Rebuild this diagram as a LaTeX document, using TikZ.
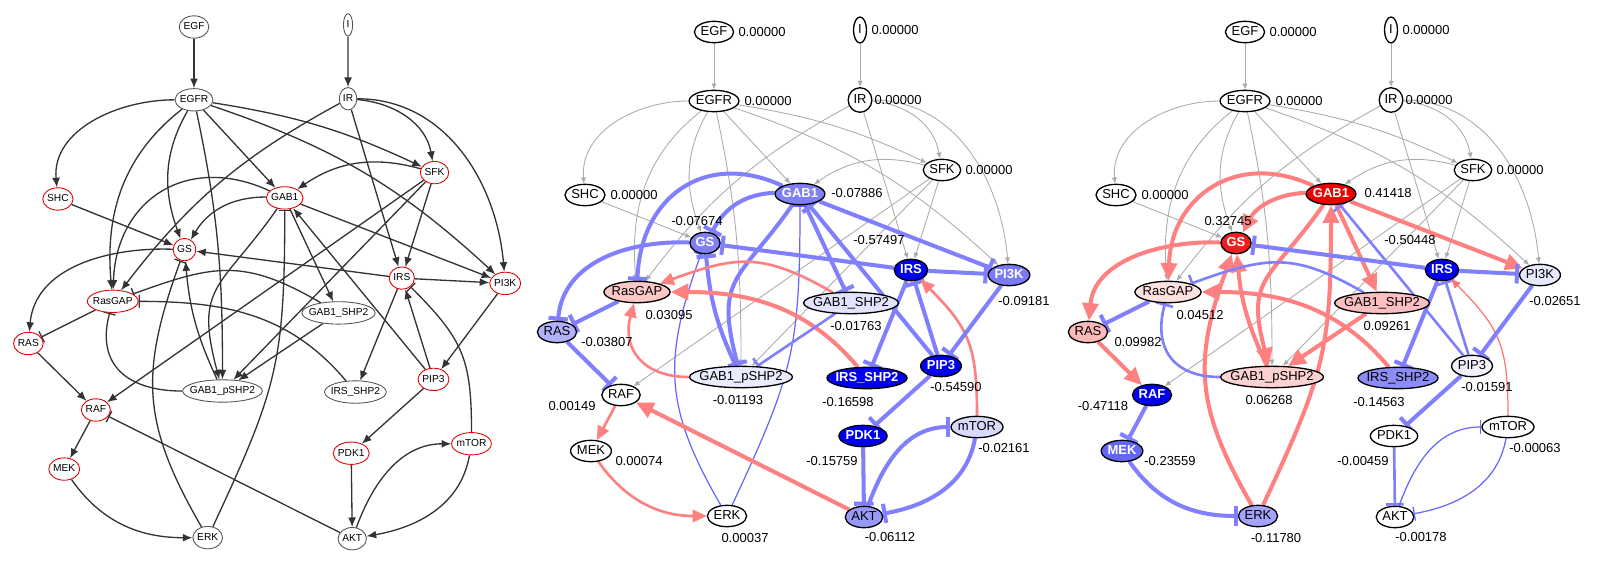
\documentclass[tikz,border=0pt]{standalone}
\usepackage{fontspec}
\setmainfont{Liberation Sans}
\usetikzlibrary{arrows.meta,shapes.geometric}
\pgfdeclarelayer{edges}
\pgfsetlayers{edges,main}
\newsavebox\sqbox
\definecolor{ink}{HTML}{333333}
\definecolor{rimred}{HTML}{E00000}
\definecolor{rimgrey}{HTML}{555555}
\definecolor{bl}{HTML}{0000EE}
\definecolor{rd}{HTML}{EE0000}
\tikzset{
  squeeze/.style={execute at begin node={\setbox\sqbox\hbox\bgroup},
    execute at end node={\egroup\hbox to .8\wd\sqbox{\hss\box\sqbox\hss}}},
  n1/.style={ellipse, draw, line width=.5pt, squeeze,
    font=\fontsize{5.8}{6}\selectfont, inner xsep=1.2pt, inner ysep=1.8pt,
    text height=4.3pt, text depth=1.1pt},
  n2/.style={ellipse, draw=black, line width=.75pt, squeeze,
    font=\fontsize{7.4}{8}\selectfont, inner xsep=1.8pt, inner ysep=.9pt,
    text height=5.4pt, text depth=1.4pt},
  tallI/.style={minimum height=0.52cm},
  tallIR/.style={minimum height=0.49cm},
  lt/.style={},
  dk/.style={text=white, font=\fontsize{7.4}{8}\selectfont\bfseries},
  val/.style={font=\fontsize{7.4}{8}\selectfont, inner sep=0pt},
  % edge looks
  ar/.style={draw=ink, line width=.75pt, -{Latex[length=5.5pt,width=4.5pt]}},
  tb/.style={draw=ink, line width=.75pt, -{Bar[width=7pt]}},
  gr/.style={draw=gray!65, line width=.5pt, -{Latex[length=3.5pt,width=3pt]}},
  pos1/.style={draw=red!55, line width=.7pt, -{Triangle[length=5pt,width=4.5pt]}},
  pos2/.style={draw=red!50, line width=1.5pt, -{Triangle[length=8pt,width=7pt]}},
  pos3/.style={draw=red!50, line width=2.3pt, -{Triangle[length=10pt,width=9pt]}},
  neg1/.style={draw=blue!60, line width=.7pt, -{Bar[width=8pt]}},
  neg2/.style={draw=blue!50, line width=1.5pt, -{Bar[width=10pt]}},
  neg3/.style={draw=blue!50, line width=2.3pt, -{Bar[width=11pt]}},
  % per-edge looks, network panel
  sig/.style=ar, GAB1-GS/.style=ar, GAB1-RasGAP/.style=ar, GAB1-GABP/.style=ar,
  GAB1-GABS/.style=ar, GAB1-PI3K/.style=ar, ERK-GAB1/.style=tb, PIP3-GAB1/.style=ar,
  GS-RAS/.style=ar, ERK-GS/.style=tb, GABP-GS/.style=ar, IRS-GS/.style=ar,
  IRS-PI3K/.style=ar, IRS-IRSS/.style=ar, PIP3-IRS/.style=ar, mTOR-IRS/.style=tb,
  PI3K-PIP3/.style=ar, PIP3-PDK1/.style=ar, PDK1-AKT/.style=ar, AKT-mTOR/.style=ar,
  mTOR-AKT/.style=ar, AKT-RAF/.style=tb, RAS-RAF/.style=ar, RAF-MEK/.style=ar,
  MEK-ERK/.style=ar, RasGAP-RAS/.style=tb, GABP-RasGAP/.style=tb, GABS-RasGAP/.style=tb,
  IRSS-RasGAP/.style=tb, GABS-GABP/.style=ar
}
\newcommand\wiring[1]{%
  \draw[sig] (#1EGF) -- (#1EGFR);
  \draw[sig] (#1I) -- (#1IR);
  \draw[sig] (#1EGFR) to[out=180,in=95] (#1SHC);
  \draw[sig] (#1EGFR) to[out=218,in=95] (#1RasGAP);
  \draw[sig] (#1EGFR) to[out=240,in=110] (#1GS);
  \draw[sig] (#1EGFR) to[out=-78,in=90] (#1GABP);
  \draw[sig] (#1EGFR) -- (#1GAB1);
  \draw[sig] (#1EGFR) to[bend left=8] (#1SFK);
  \draw[sig] (#1EGFR) to[bend left=12] (#1PI3K);
  \draw[sig] (#1IR) to[bend right=12] (#1RasGAP);
  \draw[sig] (#1IR) to[out=-5,in=100] (#1SFK);
  \draw[sig] (#1IR) -- (#1IRS);
  \draw[sig] (#1IR) to[out=0,in=95] (#1PI3K);
  \draw[sig] (#1SHC) -- (#1GS);
  \draw[sig] (#1SFK) to[bend right=25] (#1GAB1);
  \draw[sig] (#1SFK) -- (#1RAF);
  \draw[sig] (#1SFK) -- (#1GABP);
  \draw[sig] (#1SFK) -- (#1IRS);
  \draw[GAB1-GS] (#1GAB1) to[bend right=30] (#1GS);
  \draw[GAB1-RasGAP] (#1GAB1) to[out=155,in=88,looseness=1.25] (#1RasGAP);
  \draw[GAB1-GABP] (#1GAB1) to[out=235,in=105,looseness=1.4] (#1GABP);
  \draw[GAB1-GABS] (#1GAB1) -- (#1GABS);
  \draw[GAB1-PI3K] (#1GAB1) -- (#1PI3K);
  \draw[ERK-GAB1] (#1ERK) to[out=65,in=-90,looseness=1.2] (#1GAB1);
  \draw[PIP3-GAB1] (#1PIP3) -- (#1GAB1);
  \draw[GS-RAS] (#1GS) to[out=178,in=85] (#1RAS);
  \draw[ERK-GS] (#1ERK) to[out=120,in=-110,looseness=1.15] (#1GS);
  \draw[GABP-GS] (#1GABP) to[bend left=10] (#1GS);
  \draw[IRS-GS] (#1IRS) -- (#1GS);
  \draw[IRS-PI3K] (#1IRS) -- (#1PI3K);
  \draw[IRS-IRSS] (#1IRS) -- (#1IRSS);
  \draw[PIP3-IRS] (#1PIP3) -- (#1IRS);
  \draw[mTOR-IRS] (#1mTOR) to[out=90,in=-45,looseness=1.2] (#1IRS);
  \draw[PI3K-PIP3] (#1PI3K) -- (#1PIP3);
  \draw[PIP3-PDK1] (#1PIP3) -- (#1PDK1);
  \draw[PDK1-AKT] (#1PDK1) -- (#1AKT);
  \draw[AKT-mTOR] (#1AKT) to[out=70,in=180] (#1mTOR);
  \draw[mTOR-AKT] (#1mTOR) to[out=-100,in=10] (#1AKT);
  \draw[AKT-RAF] (#1AKT) -- (#1RAF);
  \draw[RAS-RAF] (#1RAS) -- (#1RAF);
  \draw[RAF-MEK] (#1RAF) -- (#1MEK);
  \draw[MEK-ERK] (#1MEK) to[out=-55,in=180] (#1ERK);
  \draw[RasGAP-RAS] (#1RasGAP) -- (#1RAS);
  \draw[GABP-RasGAP] (#1GABP) to[out=180,in=-105,looseness=1.3] (#1RasGAP);
  \draw[GABS-RasGAP] (#1GABS) to[out=150,in=20,looseness=1.2] (#1RasGAP);
  \draw[IRSS-RasGAP] (#1IRSS) to[out=130,in=0] (#1RasGAP);
  \draw[GABS-GABP] (#1GABS) -- (#1GABP);
}
\begin{document}
\begin{tikzpicture}[x=0.02cm, y=0.02cm]
\useasboundingbox (0,0) rectangle (1608,-575);

% network
\begin{scope}[shift={(194,-27)}, scale=1.055]
  \foreach \n/\x/\y/\t/\oc in {EGF/0/0/EGF/rimgrey, I/146/2/I/rimgrey,
      EGFR/0/-69/EGFR/rimgrey, IR/146/-68/IR/rimgrey, SFK/228/-138/SFK/rimred,
      SHC/-129/-163/SHC/rimred, GAB1/86/-162/GAB1/rimred, GS/-9/-211/GS/rimred,
      IRS/197/-238/IRS/rimred, PI3K/295/-243/PI3K/rimred,
      RasGAP/-77/-260/RasGAP/rimred, GABS/137/-271/GAB1\_SHP2/rimgrey,
      RAS/-157/-300/RAS/rimred, PIP3/227/-334/PIP3/rimred,
      GABP/27/-345/GAB1\_pSHP2/rimgrey, IRSS/153/-346/IRS\_SHP2/rimgrey,
      RAF/-93/-363/RAF/rimred, PDK1/149/-404/PDK1/rimred,
      mTOR/263/-395/mTOR/rimred, MEK/-123/-419/MEK/rimred,
      ERK/13/-484/ERK/rimgrey, AKT/150/-485/AKT/rimgrey}
    \node[n1, draw=\oc, fill=white] (a\n) at (\x,\y) {\t};
  \begin{pgfonlayer}{edges}
    \wiring{a}
  \end{pgfonlayer}
\end{scope}

% first perturbation
\begin{scope}[shift={(714,-32)}, sig/.style=gr,
    GAB1-GS/.style=neg3, GAB1-RasGAP/.style=neg3, GAB1-GABP/.style=neg3,
    GAB1-GABS/.style=neg3, GAB1-PI3K/.style=neg3, ERK-GAB1/.style=neg1,
    PIP3-GAB1/.style=neg3, GS-RAS/.style=neg3, ERK-GS/.style=neg1,
    GABP-GS/.style=neg3, IRS-GS/.style=neg3, IRS-PI3K/.style=neg3,
    IRS-IRSS/.style=neg3, PIP3-IRS/.style=neg3, mTOR-IRS/.style=pos2,
    PI3K-PIP3/.style=neg3, PIP3-PDK1/.style=neg3, PDK1-AKT/.style=neg3,
    AKT-mTOR/.style=neg3, mTOR-AKT/.style=neg3, AKT-RAF/.style=pos3,
    RAS-RAF/.style=neg3, RAF-MEK/.style=pos2, MEK-ERK/.style=pos2,
    RasGAP-RAS/.style=neg3, GABP-RasGAP/.style=pos2, GABS-RasGAP/.style=pos2,
    IRSS-RasGAP/.style=pos3, GABS-GABP/.style=neg2]
  \foreach \n/\x/\y/\t/\f/\m/\v/\dx/\dy in {
      EGF/0/0/EGF/white/lt/0.00000/48/0,
      I/146/2/I/white/lt/0.00000/35/0,
      EGFR/0/-69/EGFR/white/lt/0.00000/54/0,
      IR/146/-68/IR/white/lt/0.00000/38/0,
      SFK/228/-138/SFK/white/lt/0.00000/47/0,
      SHC/-129/-163/SHC/white/lt/0.00000/49/0,
      GAB1/86/-162/GAB1/bl!50/dk/-0.07886/57/1,
      GS/-9/-211/GS/bl!50/dk/-0.07674/-8/22,
      IRS/197/-238/IRS/bl/dk/-0.57497/-32/30,
      PI3K/295/-243/PI3K/bl!52/dk/-0.09181/15/-26,
      RasGAP/-77/-260/RasGAP/rd!22/lt/0.03095/32/-23,
      GABS/137/-271/GAB1\_SHP2/bl!11/lt/-0.01763/5/-23,
      RAS/-157/-300/RAS/bl!30/lt/-0.03807/50/-10,
      PIP3/227/-334/PIP3/bl/dk/-0.54590/15/-21,
      GABP/27/-345/GAB1\_pSHP2/bl!8/lt/-0.01193/-3/-23,
      IRSS/153/-346/IRS\_SHP2/bl/dk/-0.16598/-19/-24,
      RAF/-93/-363/RAF/white/lt/0.00149/-49/-11,
      PDK1/149/-404/PDK1/bl/dk/-0.15759/-31/-25,
      mTOR/263/-395/mTOR/bl!15/lt/-0.02161/27/-21,
      MEK/-123/-419/MEK/white/lt/0.00074/48/-10,
      ERK/13/-484/ERK/white/lt/0.00037/18/-22,
      AKT/150/-485/AKT/bl!40/lt/-0.06112/26/-20} {
    \node[n2, fill=\f, \m, tall\n/.try] (b\n) at (\x,\y) {\t};
    \node[val] (b\n val) at ({\x+(\dx)},{\y+(\dy)}) {\v};
  }
  \begin{pgfonlayer}{edges}
    \wiring{b}
  \end{pgfonlayer}
\end{scope}

% second perturbation
\begin{scope}[shift={(1245,-32)}, sig/.style=gr,
    GAB1-GS/.style=pos3, GAB1-RasGAP/.style=pos3, GAB1-GABP/.style=pos3,
    GAB1-GABS/.style=pos3, GAB1-PI3K/.style=pos3, ERK-GAB1/.style=pos3,
    PIP3-GAB1/.style=neg2, GS-RAS/.style=pos3, ERK-GS/.style=pos3,
    GABP-GS/.style=pos3, IRS-GS/.style=neg3, IRS-PI3K/.style=neg3,
    IRS-IRSS/.style=neg3, PIP3-IRS/.style=neg2, mTOR-IRS/.style=pos1,
    PI3K-PIP3/.style=neg3, PIP3-PDK1/.style=neg3, PDK1-AKT/.style=neg2,
    AKT-mTOR/.style=neg1, mTOR-AKT/.style=neg1, AKT-RAF/.style={draw=none},
    RAS-RAF/.style=pos3, RAF-MEK/.style=neg3, MEK-ERK/.style=neg3,
    RasGAP-RAS/.style=neg3, GABP-RasGAP/.style=neg2, GABS-RasGAP/.style=neg2,
    IRSS-RasGAP/.style=pos3, GABS-GABP/.style=pos3]
  \foreach \n/\x/\y/\t/\f/\m/\v/\dx/\dy in {
      EGF/0/0/EGF/white/lt/0.00000/48/0,
      I/146/2/I/white/lt/0.00000/35/0,
      EGFR/0/-69/EGFR/white/lt/0.00000/54/0,
      IR/146/-68/IR/white/lt/0.00000/38/0,
      SFK/228/-138/SFK/white/lt/0.00000/47/0,
      SHC/-129/-163/SHC/white/lt/0.00000/49/0,
      GAB1/86/-162/GAB1/rd/dk/0.41418/57/1,
      GS/-9/-211/GS/rd!88/dk/0.32745/-8/22,
      IRS/197/-238/IRS/bl/dk/-0.50448/-32/30,
      PI3K/295/-243/PI3K/bl!9/lt/-0.02651/15/-26,
      RasGAP/-77/-260/RasGAP/rd!12/lt/0.04512/32/-23,
      GABS/137/-271/GAB1\_SHP2/rd!25/lt/0.09261/5/-23,
      RAS/-157/-300/RAS/rd!27/lt/0.09982/50/-10,
      PIP3/227/-334/PIP3/bl!5/lt/-0.01591/15/-21,
      GABP/27/-345/GAB1\_pSHP2/rd!18/lt/0.06268/-3/-23,
      IRSS/153/-346/IRS\_SHP2/bl!45/lt/-0.14563/-19/-24,
      RAF/-93/-363/RAF/bl/dk/-0.47118/-49/-11,
      PDK1/149/-404/PDK1/white/lt/-0.00459/-31/-25,
      mTOR/263/-395/mTOR/white/lt/-0.00063/27/-21,
      MEK/-123/-419/MEK/bl!60/dk/-0.23559/48/-10,
      ERK/13/-484/ERK/bl!36/lt/-0.11780/18/-22,
      AKT/150/-485/AKT/white/lt/-0.00178/26/-20} {
    \node[n2, fill=\f, \m, tall\n/.try] (c\n) at (\x,\y) {\t};
    \node[val] (c\n val) at ({\x+(\dx)},{\y+(\dy)}) {\v};
  }
  \begin{pgfonlayer}{edges}
    \wiring{c}
  \end{pgfonlayer}
\end{scope}
\end{tikzpicture}
\end{document}
